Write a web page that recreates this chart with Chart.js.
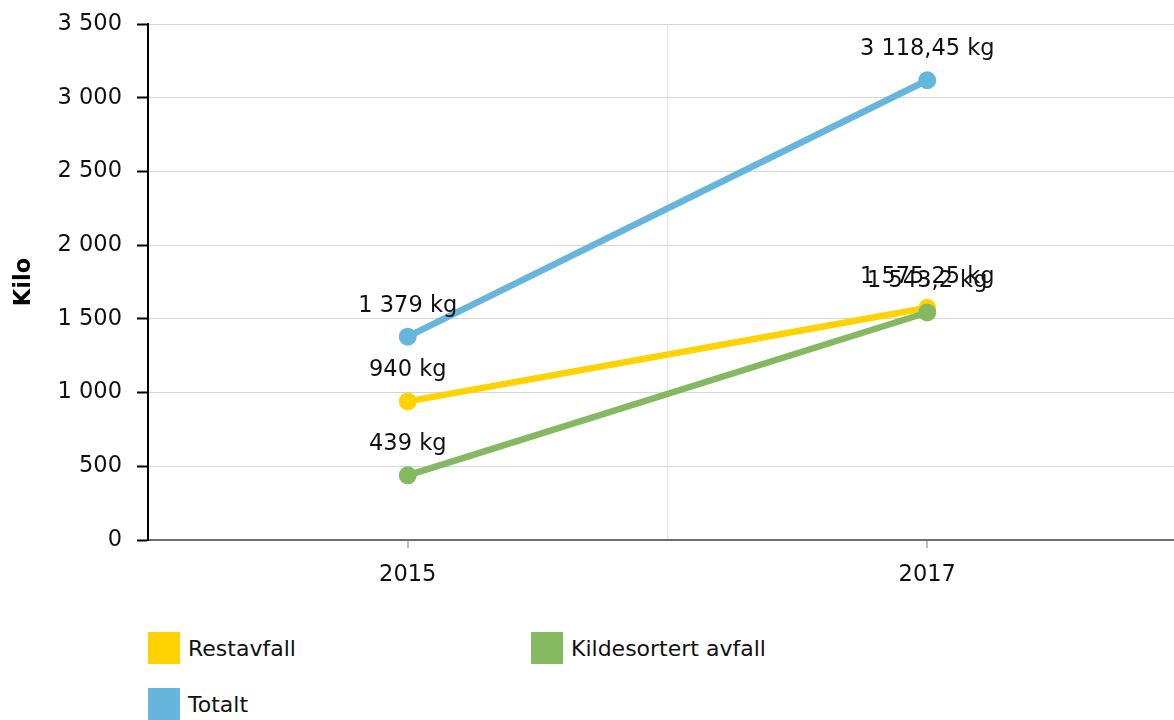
<!DOCTYPE html>
<html>
<head>
<meta charset="utf-8">
<script src="https://cdn.jsdelivr.net/npm/chart.js@4.4.1/dist/chart.umd.min.js"></script>
<style>
  html, body { margin: 0; padding: 0; background: #fff; overflow: hidden; width: 1174px; height: 720px; }
  #wrap { position: relative; width: 1174px; height: 720px; overflow: hidden; }
  canvas { position: absolute; left: 0; top: 0; }
  .leg { position: absolute; font-family: "DejaVu Sans", Verdana, sans-serif; font-size: 22px; color: #111; line-height: 32px; white-space: nowrap; }
  .leg .box { position: absolute; left: 0; top: 0; width: 32px; height: 32px; }
  .leg .txt { position: absolute; left: 40px; top: 1px; }
</style>
</head>
<body>
<div id="wrap">
  <canvas id="c" width="1196" height="600"></canvas>
  <div id="legend"></div>
</div>
<script>
const categories = ['2015', '2017'];
const seriesNames = ['Restavfall', 'Kildesortert avfall', 'Totalt'];
const restavfall = [940, 1575.25];
const kildesortert = [439, 1543.2];
const totalt = [1379, 3118.45];
const seriesColors = ['#FFD200', '#84B962', '#66B5DC'];
const yTicks = { min: 0, max: 3500, step: 500 };
const unit = 'kg';
const yTitle = 'Kilo';

const FONT = '"DejaVu Sans", Verdana, sans-serif';
const TXT = '#111';

function fmt(v) {
  const parts = String(v).split('.');
  const intPart = parts[0].replace(/\B(?=(\d{3})+(?!\d))/g, ' ');
  return parts.length > 1 ? intPart + ',' + parts[1] : intPart;
}

const valueLabels = {
  id: 'valueLabels',
  afterDatasetsDraw(chart) {
    const ctx = chart.ctx;
    ctx.save();
    ctx.font = '22.5px ' + FONT;
    ctx.fillStyle = TXT;
    ctx.textAlign = 'center';
    ctx.textBaseline = 'middle';
    chart.data.datasets.forEach((ds, i) => {
      const meta = chart.getDatasetMeta(i);
      meta.data.forEach((pt, j) => {
        ctx.fillText(fmt(ds.data[j]) + ' ' + unit, pt.x, pt.y - 31);
      });
    });
    ctx.restore();
  }
};

const seriesData = [restavfall, kildesortert, totalt];
const drawOrder = [1, 0, 2];

const chart = new Chart(document.getElementById('c'), {
  type: 'line',
  data: {
    labels: categories,
    datasets: seriesNames.map((name, i) => ({
      label: name,
      data: seriesData[i],
      borderColor: seriesColors[i],
      backgroundColor: seriesColors[i],
      pointBackgroundColor: seriesColors[i],
      pointBorderColor: seriesColors[i],
      pointBorderWidth: 0,
      pointRadius: 9,
      borderWidth: 6.5,
      tension: 0,
      order: drawOrder[i],
      xAxisID: 'x'
    }))
  },
  options: {
    responsive: false,
    animation: false,
    devicePixelRatio: 1,
    layout: { padding: { top: 24, right: 0, bottom: 0, left: 0 } },
    plugins: { legend: { display: false }, tooltip: { enabled: false } },
    scales: {
      xg: {
        type: 'category',
        position: 'bottom',
        offset: true,
        labels: categories,
        weight: 1,
        grid: { offset: true, color: '#e3e3e3', lineWidth: 1, drawTicks: false },
        border: { display: true, color: '#6e6e6e', width: 2 },
        ticks: { display: false },
        afterFit(s) { s.height = 0; }
      },
      x: {
        type: 'category',
        position: 'bottom',
        offset: true,
        weight: 2,
        grid: { offset: false, drawOnChartArea: false, color: '#bdbdbd', lineWidth: 2, tickLength: 8 },
        border: { display: false },
        ticks: { color: TXT, font: { family: FONT, size: 22.5 }, padding: 14 },
        afterFit(s) { s.height = 60; }
      },
      y: {
        min: yTicks.min,
        max: yTicks.max,
        ticks: {
          stepSize: yTicks.step,
          color: TXT,
          font: { family: FONT, size: 22.5 },
          padding: 15,
          callback: (v) => fmt(v)
        },
        grid: { color: '#d6d6d6', lineWidth: 1, tickColor: '#000', tickWidth: 2, tickLength: 11 },
        border: { display: true, color: '#000', width: 2 },
        title: {
          display: true,
          text: yTitle,
          color: '#000',
          font: { family: FONT, size: 22.5, weight: 'bold' },
          padding: { top: 11, bottom: 10 }
        },
        afterFit(s) { s.width = 148; s.paddingTop = 10; s.paddingBottom = 10; }
      }
    }
  },
  plugins: [valueLabels]
});

// HTML legend built from series arrays
const legendPos = [[148, 632], [531, 632], [148, 688]];
const legendEl = document.getElementById('legend');
seriesNames.forEach((name, i) => {
  const d = document.createElement('div');
  d.className = 'leg';
  d.style.left = legendPos[i][0] + 'px';
  d.style.top = legendPos[i][1] + 'px';
  const b = document.createElement('div');
  b.className = 'box';
  b.style.background = seriesColors[i];
  const t = document.createElement('span');
  t.className = 'txt';
  t.textContent = name;
  d.appendChild(b); d.appendChild(t);
  legendEl.appendChild(d);
});
</script>
</body>
</html>
